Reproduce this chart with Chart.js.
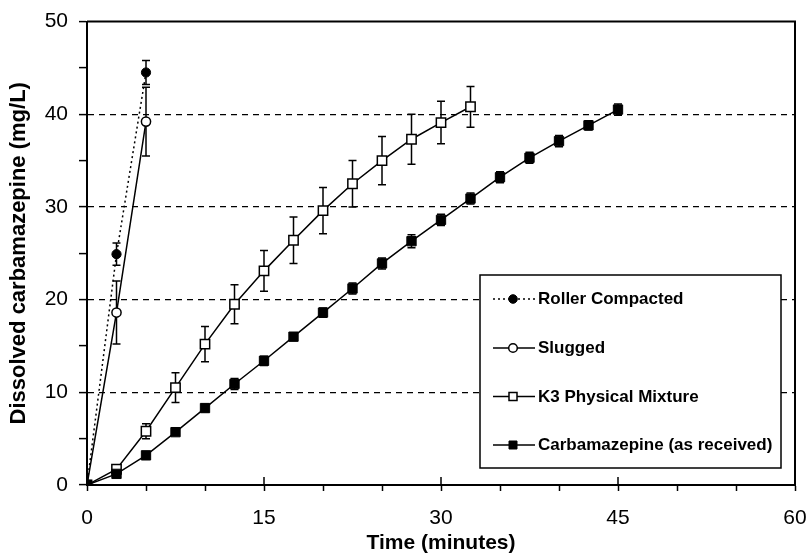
<!DOCTYPE html>
<html>
<head>
<meta charset="utf-8">
<script src="https://cdn.jsdelivr.net/npm/chart.js@4/dist/chart.umd.min.js"></script>
<style>
html,body{margin:0;padding:0;background:#fff;}
#wrap{width:810px;height:554px;}
</style>
</head>
<body>
<div id="wrap"><canvas id="c" width="810" height="554"></canvas></div>
<script>
// ---- data ----
const rcTime = [0, 2.5, 5];
const rcVal  = [0, 24.9, 44.5];
const rcErr  = [0, 1.2, 1.3];

const slTime = [0, 2.5, 5];
const slVal  = [0, 18.6, 39.2];
const slErr  = [0, 3.4, 3.7];

const k3Time = [0, 2.5, 5, 7.5, 10, 12.5, 15, 17.5, 20, 22.5, 25, 27.5, 30, 32.5];
const k3Val  = [0, 1.7, 5.8, 10.5, 15.2, 19.5, 23.1, 26.4, 29.6, 32.5, 35.0, 37.3, 39.1, 40.8];
const k3Err  = [0, 0.3, 0.8, 1.6, 1.9, 2.1, 2.2, 2.5, 2.5, 2.5, 2.6, 2.7, 2.3, 2.2];

const cbTime = [0, 2.5, 5, 7.5, 10, 12.5, 15, 17.5, 20, 22.5, 25, 27.5, 30, 32.5, 35, 37.5, 40, 42.5, 45];
const cbVal  = [0, 1.2, 3.2, 5.7, 8.3, 10.9, 13.4, 16.0, 18.6, 21.2, 23.9, 26.3, 28.6, 30.9, 33.2, 35.3, 37.1, 38.8, 40.5];
const cbErr  = [0, 0.2, 0.3, 0.3, 0.4, 0.6, 0.5, 0.4, 0.5, 0.6, 0.6, 0.7, 0.6, 0.6, 0.6, 0.6, 0.6, 0.5, 0.6];

const seriesNames = ['Roller Compacted', 'Slugged', 'K3 Physical Mixture', 'Carbamazepine (as received)'];
const xTickLabels = [0, 15, 30, 45, 60];
const yTickLabels = [0, 10, 20, 30, 40, 50];

const FONT = "'Liberation Sans', Arial, Helvetica, sans-serif";
const pts = (t, v) => t.map((x, i) => ({x: x, y: v[i]}));

const datasets = [
  {label: seriesNames[3], data: pts(cbTime, cbVal), err: cbErr, borderColor:'#000', borderWidth:1.5,
   pointStyle:'rect', pointRadius:6.6, pointBackgroundColor:'#000', pointBorderColor:'#000', pointBorderWidth:1, borderDash:[]},
  {label: seriesNames[2], data: pts(k3Time, k3Val), err: k3Err, borderColor:'#000', borderWidth:1.5,
   pointStyle:'rect', pointRadius:6.6, pointBackgroundColor:'#fff', pointBorderColor:'#000', pointBorderWidth:1.5, borderDash:[]},
  {label: seriesNames[1], data: pts(slTime, slVal), err: slErr, borderColor:'#000', borderWidth:1.5,
   pointStyle:'circle', pointRadius:4.6, pointBackgroundColor:'#fff', pointBorderColor:'#000', pointBorderWidth:1.5, borderDash:[]},
  {label: seriesNames[0], data: pts(rcTime, rcVal), err: rcErr, borderColor:'#000', borderWidth:1.5,
   pointStyle:'circle', pointRadius:4.6, pointBackgroundColor:'#000', pointBorderColor:'#000', pointBorderWidth:1, borderDash:[2,3]}
];
datasets.forEach(d => { d.showLine = true; d.fill = false; d.tension = 0; d.pointHoverRadius = d.pointRadius; });

const errorBars = {
  id: 'errorBars',
  beforeDatasetsDraw(chart) {
    const c = chart.ctx, xs = chart.scales.x, ys = chart.scales.y;
    c.save();
    c.strokeStyle = '#000'; c.lineWidth = 1.5;
    chart.data.datasets.forEach(ds => {
      ds.data.forEach((p, i) => {
        const e = ds.err[i];
        if (!e) return;
        const px = xs.getPixelForValue(p.x);
        const y1 = ys.getPixelForValue(p.y + e), y2 = ys.getPixelForValue(p.y - e);
        c.beginPath();
        c.moveTo(px, y1); c.lineTo(px, y2);
        c.moveTo(px - 4, y1); c.lineTo(px + 4, y1);
        c.moveTo(px - 4, y2); c.lineTo(px + 4, y2);
        c.stroke();
      });
    });
    c.restore();
  }
};

const frameAndLegend = {
  id: 'frameAndLegend',
  afterDraw(chart) {
    const c = chart.ctx, a = chart.chartArea, xs = chart.scales.x;
    c.save();
    c.strokeStyle = '#000';
    // frame top/right
    c.lineWidth = 2;
    c.beginPath();
    c.moveTo(a.left, a.top); c.lineTo(a.right, a.top); c.lineTo(a.right, a.bottom);
    c.stroke();
    // major x ticks crossing inward
    c.lineWidth = 1.5;
    xTickLabels.forEach(v => {
      const px = xs.getPixelForValue(v);
      c.beginPath(); c.moveTo(px, a.bottom); c.lineTo(px, a.bottom - 8); c.stroke();
    });
    // legend box
    const bx = 480, by = 275, bw = 301, bh = 193;
    c.fillStyle = '#fff';
    c.fillRect(bx, by, bw, bh);
    c.lineWidth = 1.5;
    c.strokeRect(bx, by, bw, bh);
    const order = [3, 2, 1, 0];
    const rowY = [299, 348, 396.5, 445];
    order.forEach((di, r) => {
      const ds = chart.data.datasets[di];
      const y = rowY[r];
      c.save();
      c.lineWidth = ds.borderWidth;
      c.setLineDash(ds.borderDash);
      c.beginPath(); c.moveTo(493, y); c.lineTo(535, y); c.stroke();
      c.restore();
      c.fillStyle = ds.pointBackgroundColor;
      c.strokeStyle = '#000';
      c.lineWidth = ds.pointBorderWidth;
      c.beginPath();
      if (ds.pointStyle === 'rect') { c.rect(513 - 4, y - 4, 8, 8); }
      else { c.arc(513, y, 4.3, 0, Math.PI * 2); }
      c.fill(); c.stroke();
      c.fillStyle = '#000';
      c.font = "bold 17px " + FONT;
      c.textBaseline = 'middle';
      c.textAlign = 'left';
      c.fillText(ds.label, 538, y + 0.5);
    });
    c.restore();
  }
};

new Chart(document.getElementById('c'), {
  type: 'scatter',
  data: {datasets: datasets},
  options: {
    responsive: false,
    animation: false,
    layout: {padding: {left: 0, right: 15, top: 21.5, bottom: 0}},
    plugins: {legend: {display: false}, tooltip: {enabled: false}},
    scales: {
      x: {
        type: 'linear', min: 0, max: 60,
        afterBuildTicks: s => { s.ticks = [0,5,10,15,20,25,30,35,40,45,50,55,60].map(v => ({value: v})); },
        ticks: {callback: v => xTickLabels.includes(v) ? String(v) : '', autoSkip: false, maxRotation: 0,
                color: '#000', font: {family: FONT, size: 21}, padding: 15},
        grid: {drawOnChartArea: false, tickLength: 6, tickColor: '#000', tickWidth: 1.5},
        border: {color: '#000', width: 2},
        title: {display: true, text: 'Time (minutes)', color: '#000', font: {family: FONT, size: 21, weight: 'bold'}, padding: {top: 0, bottom: -2}},
        afterFit: s => { s.height = 69; s.paddingLeft = 0; s.paddingRight = 0; }
      },
      y: {
        type: 'linear', min: 0, max: 50,
        afterBuildTicks: s => { s.ticks = [0,5,10,15,20,25,30,35,40,45,50].map(v => ({value: v})); },
        ticks: {callback: v => yTickLabels.includes(v) ? String(v) : '', autoSkip: false,
                color: '#000', font: {family: FONT, size: 21}, padding: 11},
        grid: {color: c => (c.tick && c.tick.value % 10 === 0 && c.tick.value > 0 && c.tick.value < 50) ? '#000' : 'rgba(0,0,0,0)',
               lineWidth: 1.2, tickLength: 8, tickColor: '#000', tickWidth: 1.5},
        border: {color: '#000', width: 2, dash: [6, 5]},
        title: {display: true, text: 'Dissolved carbamazepine (mg/L)', color: '#000', font: {family: FONT, size: 22, weight: 'bold'}, padding: {top: 6, bottom: 0}},
        afterFit: s => { s.width = 87; s.paddingTop = 0; s.paddingBottom = 0; }
      }
    }
  },
  plugins: [errorBars, frameAndLegend]
});
</script>
</body>
</html>
